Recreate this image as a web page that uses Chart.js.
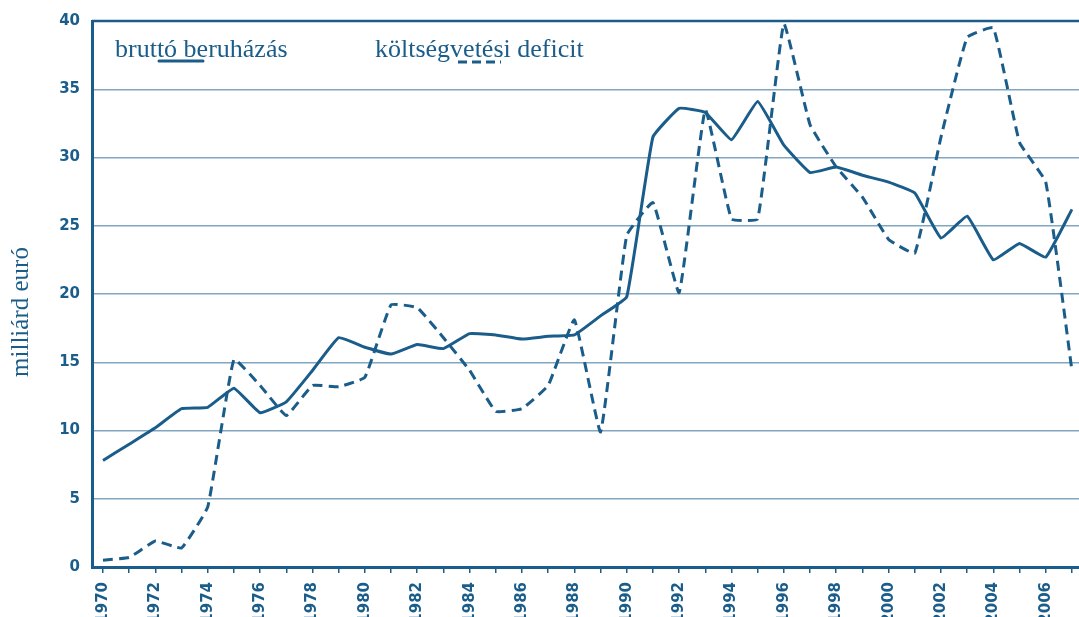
<!DOCTYPE html>
<html>
<head>
<meta charset="utf-8">
<script src="https://cdn.jsdelivr.net/npm/chart.js@4"></script>
<style>
  html, body { margin: 0; background: #fff; }
  #wrap { width: 1079px; height: 617px; }
</style>
</head>
<body>
<div id="wrap"><canvas id="graph"></canvas></div>
<script>
// --- adatok (leolvasva az ábráról) ---
var evek = [1970, 1971, 1972, 1973, 1974, 1975, 1976, 1977, 1978, 1979,
            1980, 1981, 1982, 1983, 1984, 1985, 1986, 1987, 1988, 1989,
            1990, 1991, 1992, 1993, 1994, 1995, 1996, 1997, 1998, 1999,
            2000, 2001, 2002, 2003, 2004, 2005, 2006, 2007];

// bruttó beruházás, milliárd euró
var beruhazas = [7.8, 9.0, 10.2, 11.6, 11.7, 13.1, 11.3, 12.1, 14.4, 16.8,
                 16.1, 15.6, 16.3, 16.0, 17.1, 17.0, 16.7, 16.9, 17.0, 18.4,
                 19.8, 31.5, 33.6, 33.3, 31.3, 34.1, 30.9, 28.9, 29.3, 28.7,
                 28.2, 27.4, 24.1, 25.7, 22.5, 23.7, 22.7, 26.2];

// költségvetési deficit, milliárd euró
var deficit = [0.5, 0.7, 1.9, 1.4, 4.4, 15.2, 13.3, 11.1, 13.3, 13.2,
               13.9, 19.2, 19.0, 16.8, 14.4, 11.4, 11.6, 13.3, 18.1, 9.9,
               24.3, 26.7, 20.1, 33.5, 25.5, 25.5, 39.8, 32.4, 29.3, 27.1,
               24.0, 23.0, 31.5, 38.8, 39.5, 31.1, 28.2, 14.4];

var yTicks = [0, 5, 10, 15, 20, 25, 30, 35, 40];
var cimkek = ["bruttó beruházás", "költségvetési deficit"];
var tengelyCim = "milliárd euró";

var kek = "#1a5d8a";
var halvany = "rgba(26, 93, 138, 0.55)";

// jelmagyarázat, tengelycím + felső keret kézzel rajzolva
var sajatRajz = {
  id: "sajatRajz",
  afterDraw: function (chart) {
    var c = chart.ctx;
    var a = chart.chartArea;
    c.save();
    // felső keret
    c.strokeStyle = kek;
    c.lineWidth = 2.5;
    c.beginPath();
    c.moveTo(a.left, a.top);
    c.lineTo(a.right, a.top);
    c.stroke();

    // jelmagyarázat szövege
    c.fillStyle = kek;
    c.font = "26px 'Liberation Serif'";
    c.textBaseline = "alphabetic";
    c.fillText(cimkek[0], 115, 57);
    c.fillText(cimkek[1], 375, 57);

    // minta vonalak
    c.lineWidth = 3;
    c.lineCap = "round";
    c.beginPath();
    c.moveTo(159, 61);
    c.lineTo(203, 61);
    c.stroke();

    c.lineCap = "butt";
    c.setLineDash([9, 5]);
    c.beginPath();
    c.moveTo(458, 62);
    c.lineTo(501, 62);
    c.stroke();
    c.setLineDash([]);

    // függőleges tengelycím
    c.font = "25px 'Liberation Serif'";
    c.translate(21, 312);
    c.rotate(-Math.PI / 2);
    c.textAlign = "center";
    c.textBaseline = "middle";
    c.fillText(tengelyCim, 0, 0);
    c.restore();
  }
};

const ctx = document.getElementById("graph");
const grafikon = new Chart(ctx, {
  type: "line",
  data: {
    datasets: [
      {
        label: cimkek[0],
        data: evek.map((ev, i) => ({ x: ev, y: beruhazas[i] })),
        borderColor: kek,
        borderWidth: 3,
        pointRadius: 0,
        tension: 0.1,
      },
      {
        label: cimkek[1],
        data: evek.map((ev, i) => ({ x: ev, y: deficit[i] })),
        borderColor: kek,
        borderWidth: 3,
        borderDash: [10, 6],
        pointRadius: 0,
        tension: 0.1,
      },
    ],
  },
  options: {
    responsive: true,
    maintainAspectRatio: false,
    animation: false,
    layout: { padding: { top: 21, right: 0, bottom: 0, left: 0 } },
    plugins: {
      legend: { display: false },
      tooltip: { enabled: false },
    },
    scales: {
      x: {
        type: "linear",
        min: 1969.58,
        max: 2007.27,
        afterBuildTicks: function (s) {
          s.ticks = evek.map((v) => ({ value: v }));
        },
        afterFit: function (s) {
          s.height = 50;
          s.paddingLeft = 0;
          s.paddingRight = 0;
        },
        ticks: {
          autoSkip: false,
          minRotation: 90,
          maxRotation: 90,
          padding: 9,
          color: kek,
          font: { family: "DejaVu Sans", weight: "bold", size: 15 },
          callback: (v) => (v % 2 === 0 ? String(v) : ""),
        },
        grid: { drawOnChartArea: false, color: kek, lineWidth: 1.5, tickLength: 6 },
        border: { color: kek, width: 3 },
      },
      y: {
        min: 0,
        max: 40,
        afterBuildTicks: function (s) {
          s.ticks = yTicks.map((v) => ({ value: v }));
        },
        afterFit: function (s) {
          s.width = 92;
        },
        ticks: {
          padding: 12,
          color: kek,
          font: { family: "DejaVu Sans", weight: "bold", size: 15 },
        },
        grid: {
          drawTicks: false,
          color: (c) => (c.tick && c.tick.value === 40 ? kek : halvany),
          lineWidth: 1.5,
        },
        border: { color: kek, width: 3 },
      },
    },
  },
  plugins: [sajatRajz],
});
</script>
</body>
</html>
